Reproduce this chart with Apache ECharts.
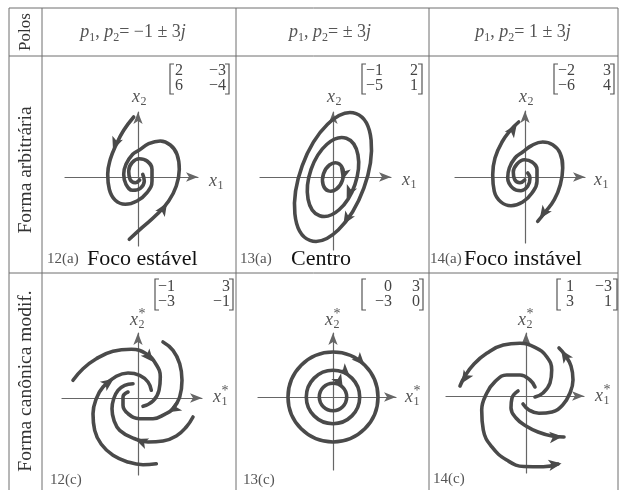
<!DOCTYPE html>
<html>
<head>
<meta charset="utf-8">
<script src="https://cdn.jsdelivr.net/npm/echarts@6/dist/echarts.min.js"></script>
<style>
  html, body { margin: 0; padding: 0; background: #fff; }
  #c { width: 620px; height: 490px; }
</style>
</head>
<body>
<div id="c"></div>
<script>
// ---- Trajectories (x1, x2), one unit per pixel, measured from each panel's origin ----

// 12(a) stable focus, arbitrary form
const estavelA = [[-8.7,-62.3],[4,-50.7],[19,-37.3],[30.7,-24],[38.3,-9],[41.3,7.7],[39,22.7],[32.3,32],[22.3,36],[10.7,33.3],[1.3,27],[-5.3,22.7],[-12,12.7],[-14.3,2.7],[-12,-7.3],[-5.3,-13.3],[2.3,-11.3],[6.3,-4],[4.7,2.7]];
const estavelB = [[-4.3,60],[-14.3,46.7],[-22,32],[-27.7,17.7],[-30.3,2.7],[-28.7,-12.3],[-22.7,-23.3],[-12.7,-27.3],[-1,-24],[9,-15.7],[14,-4],[14,7.7],[9,16],[1.3,18.3],[-6,14.3],[-9.3,6],[-8,-2.3],[-2.7,-5.7],[1.7,-3]];
const estavelArrows = [[[-23.5,31],[-27.3,21]], [[25.5,-31.5],[32.5,-20.5]]];

// 13(a) centre: closed orbits [semi-major, semi-minor, tilt in degrees]
const centroOrbits = [[67.5,32.8,70],[41,23.2,71],[14.6,10,72]];
const centroArrows = [[[12.5,-44],[7,-53]], [[15.5,-17],[11,-27]], [[9.5,-2],[7.5,-10]]];

// 14(a) unstable focus, arbitrary form
const instavelC = [[-0.3,-3],[-5,-5.7],[-10.3,-2.7],[-11.7,5],[-8,13],[-0.7,17.3],[7,15],[12,7.3],[12,-4.3],[7,-16],[-2.3,-25],[-14,-28.7],[-24,-25],[-30.7,-14.3],[-32.3,2.3],[-30,19],[-23,35],[-14,47.3],[-6.3,55]];
const instavelD = [[2.7,4],[5,-1],[2.7,-9.3],[-4,-13.7],[-12.3,-11],[-17.3,-1],[-15.7,9],[-10,19],[-2.3,25],[7,31.7],[17.7,35],[27.7,32.3],[35,24],[37.7,9],[35.3,-7.7],[29.3,-22.7],[20.3,-35],[12.7,-44.3]];
const instavelArrows = [[[-11.5,48],[-4.5,58]], [[18,-37],[11,-47]]];

// 12(c) stable focus, modified canonical form
const canEstavel1 = [[-65,17.7],[-55,29.3],[-41.7,39.3],[-25,46.7],[-6.7,48.7],[8.3,44.3],[17.7,34.3],[22.3,21],[21,7.7],[15,-3],[5,-8.3]];
const canEstavel2 = [[25,56],[35,47.7],[41.7,34.3],[44,17.7],[41.7,1],[35,-10.7],[26.7,-16.3],[15,-20.7],[1.7,-20.7],[-10,-15.7],[-15,-7.3],[-15,1],[-10,6]];
const canEstavel3 = [[55,-19],[48.3,-29],[38.3,-38],[25,-43],[10,-44],[-4,-40.5],[-18.3,-32.3],[-24,-22.3],[-26,-10.7],[-24.3,-0.7],[-20,7.7],[-13.3,12.7],[-5,14.3]];
const canEstavel4 = [[18.3,-65.7],[5,-66.7],[-10,-64],[-25,-57.3],[-36.7,-46.3],[-43.3,-32.3],[-45,-15.7],[-41.7,-0.7],[-35,11],[-21.7,21.7],[-10,25],[1.7,22.7],[10,16],[13.3,7.7]];
const canEstavelArrows = [[[12,40],[19.5,31]], [[33,-12.5],[24.5,-17.5]], [[1,-42.5],[-9,-38.5]], [[-28,16.5],[-19,23]]];

// 13(c) centre, circles [radius]
const canCentroRadii = [[45],[26.7],[13.7]];
const canCentroArrows = [[[29,34.5],[36,27]], [[15.5,22],[21.5,16]], [[9.5,10],[13,4]]];

// 14(c) unstable focus, modified canonical form
const canInstavelP = [[9,-1],[17,3],[24,13],[25.7,26],[20.7,39.3],[9,48.7],[-6,52.7],[-22.7,51],[-39.3,42.7],[-52,32],[-61,20],[-66,10]];
const canInstavelQ = [[-3,-8],[3,-14],[13,-17.3],[26,-16],[36.7,-9],[44,3],[47,16],[45,30],[39,41],[33,48]];
const canInstavelR = [[-8,5],[-14,-2],[-15,-12],[-10,-22],[0,-30],[12,-36],[26,-40],[38,-41]];
const canInstavelS = [[9,9],[4,16],[-6,21],[-19.3,21],[-31,14.3],[-39.3,2.7],[-44.3,-14],[-42.7,-34],[-34.3,-50.7],[-19.3,-64],[-2,-70.5],[17.3,-70.7],[32,-68]];
const canInstavelArrows = [[[-60,19.5],[-68,7]], [[38.5,41],[31.5,51.5]], [[30,-41],[43,-40]], [[29,-68.5],[42,-66.5]]];

// ---- Text content ----
const rowTitles = ['Polos', 'Forma arbitrária', 'Forma canônica modif.'];
const poles = [['−1 ± 3'], ['± 3'], ['1 ± 3']];
const matrices = [
  [['2','−3'],['6','−4']],
  [['−1','2'],['−5','1']],
  [['−2','3'],['−6','4']],
  [['−1','3'],['−3','−1']],
  [['0','3'],['−3','0']],
  [['1','−3'],['3','1']]
];
const figTags = ['12(a)', '13(a)', '14(a)', '12(c)', '13(c)', '14(c)'];
const figNames = ['Foco estável', 'Centro', 'Foco instável'];

// ---- Layout ----
const SERIF = '"Liberation Serif", "DejaVu Serif", serif';
const INK = '#4a4a4a';
const RULE = '#6f6f6f';

// origin (ox, oy) and axis extents (l, r, t, b) of each phase plane, in pixels
const planes = [
  {ox:138, oy:177, l:65,  r:198, t:112, b:246},
  {ox:333, oy:177, l:260, r:391, t:112, b:250},
  {ox:525, oy:177, l:455, r:585, t:111, b:243},
  {ox:138, oy:398, l:62,  r:202, t:333, b:475},
  {ox:333, oy:397, l:258, r:396, t:333, b:470},
  {ox:526, oy:396, l:446, r:584, t:333, b:473}
];

const grids = [], xAxes = [], yAxes = [];
const axisLine = {
  show: true, onZero: true, symbol: ['none', 'arrow'], symbolSize: [7, 12],
  lineStyle: { color: '#666', width: 1.2 }
};
planes.forEach((p, i) => {
  grids.push({ left: p.l, top: p.t, width: p.r - p.l, height: p.b - p.t });
  const common = { type: 'value', gridIndex: i, axisLine, axisTick: {show:false},
    axisLabel: {show:false}, splitLine: {show:false} };
  xAxes.push(Object.assign({}, common, { min: p.l - p.ox, max: p.r - p.ox }));
  yAxes.push(Object.assign({}, common, { min: p.oy - p.b, max: p.oy - p.t }));
});

function curve(i, data) {
  return { type: 'line', xAxisIndex: i, yAxisIndex: i, data, smooth: 0.45,
    symbol: 'none', silent: true, z: 3,
    lineStyle: { color: INK, width: 3.6, cap: 'round', join: 'round' } };
}
function arrows(i, pairs) {
  const half = 6.5;
  const data = pairs.map(([tail, tip]) => {
    const dx = tip[0] - tail[0], dy = tip[1] - tail[1];
    const len = Math.hypot(dx, dy);
    return { value: [tip[0] - dx / len * half, tip[1] - dy / len * half],
      symbolRotate: Math.atan2(dy, dx) * 180 / Math.PI - 90 };
  });
  return { type: 'scatter', xAxisIndex: i, yAxisIndex: i, data, symbol: 'arrow',
    symbolSize: [8.5, 13], silent: true, z: 5, itemStyle: { color: INK, opacity: 1 } };
}
function ellipses(i, data) {
  return { type: 'custom', xAxisIndex: i, yAxisIndex: i, data, silent: true, z: 3,
    renderItem(params, api) {
      const c = api.coord([0, 0]);
      const s = api.size([api.value(0), api.value(1)]);
      return { type: 'ellipse', x: c[0], y: c[1], rotation: api.value(2) * Math.PI / 180,
        shape: { cx: 0, cy: 0, rx: s[0], ry: s[1] },
        style: { fill: 'none', stroke: INK, lineWidth: 3.6 } };
    } };
}
function circles(i, data) {
  return { type: 'custom', xAxisIndex: i, yAxisIndex: i, data, silent: true, z: 3,
    renderItem(params, api) {
      const c = api.coord([0, 0]);
      const r = api.size([api.value(0), api.value(0)])[0];
      return { type: 'circle', shape: { cx: c[0], cy: c[1], r },
        style: { fill: 'none', stroke: INK, lineWidth: 3.6 } };
    } };
}

const series = [
  curve(0, estavelA), curve(0, estavelB), arrows(0, estavelArrows),
  ellipses(1, centroOrbits), arrows(1, centroArrows),
  curve(2, instavelC), curve(2, instavelD), arrows(2, instavelArrows),
  curve(3, canEstavel1), curve(3, canEstavel2), curve(3, canEstavel3), curve(3, canEstavel4),
  arrows(3, canEstavelArrows),
  circles(4, canCentroRadii), arrows(4, canCentroArrows),
  curve(5, canInstavelP), curve(5, canInstavelQ), curve(5, canInstavelR), curve(5, canInstavelS),
  arrows(5, canInstavelArrows)
];

// ---- Table, labels, matrices ----
const g = [];
function line(x1, y1, x2, y2, w) {
  g.push({ type: 'line', silent: true, shape: { x1, y1, x2, y2 },
    style: { stroke: RULE, lineWidth: w || 1 } });
}
function text(x, y, str, font, fill, align, rot) {
  g.push({ type: 'text', x, y, rotation: rot || 0, silent: true,
    style: { text: str, font, fill: fill || '#333', align: align || 'left',
      textAlign: align || 'left', verticalAlign: 'middle', textVerticalAlign: 'middle' } });
}

// table rules
line(9, 8, 618, 8);
line(9, 56, 618, 56);
line(9, 273, 618, 273);
line(9, 8, 9, 490);
line(42, 8, 42, 490);
line(236, 8, 236, 490);
line(429, 8, 429, 490);
line(618, 8, 618, 490);

// row titles (vertical)
text(26, 32, rowTitles[0], '17px ' + SERIF, '#333', 'center', Math.PI / 2);
text(26, 170, rowTitles[1], '19.5px ' + SERIF, '#333', 'center', Math.PI / 2);
text(26, 381, rowTitles[2], '19.5px ' + SERIF, '#333', 'center', Math.PI / 2);

// pole headers
const headerCenters = [133, 330, 523];
const rich = {
  i: { fontFamily: SERIF, fontStyle: 'italic', fontSize: 18, fill: '#555', lineHeight: 24 },
  s: { fontFamily: SERIF, fontSize: 12, fill: '#555', lineHeight: 24, verticalAlign: 'bottom' },
  t: { fontFamily: SERIF, fontSize: 18, fill: '#555', lineHeight: 24 }
};
poles.forEach((p, k) => {
  g.push({ type: 'text', x: headerCenters[k], y: 32, silent: true,
    style: { text: '{i|p}{s|1}{t|, }{i|p}{s|2}{t|= ' + p[0] + '}{i|j}', rich,
      align: 'center', textAlign: 'center', verticalAlign: 'middle', textVerticalAlign: 'middle' } });
});

// matrices: bracket extents, column anchors and row centres
const matLayout = [
  { l:170, r:229, t:64,  b:94,  c1:175, a1:'left',  c2:226, y1:71,  y2:86 },
  { l:362, r:422, t:64,  b:94,  c1:366, a1:'left',  c2:418, y1:71,  y2:86 },
  { l:554, r:614, t:64,  b:94,  c1:558, a1:'left',  c2:611, y1:71,  y2:86 },
  { l:155, r:233, t:279, b:310, c1:158, a1:'left',  c2:230, y1:287, y2:302 },
  { l:362, r:423, t:279, b:310, c1:392, a1:'right', c2:420, y1:287, y2:302 },
  { l:557, r:617, t:279, b:310, c1:566, a1:'left',  c2:612, y1:287, y2:302 }
];
matrices.forEach((m, k) => {
  const L = matLayout[k];
  g.push({ type: 'polyline', silent: true, shape: { points: [[L.l + 4, L.t], [L.l, L.t], [L.l, L.b], [L.l + 4, L.b]] },
    style: { stroke: '#555', lineWidth: 1.2, fill: null } });
  g.push({ type: 'polyline', silent: true, shape: { points: [[L.r - 4, L.t], [L.r, L.t], [L.r, L.b], [L.r - 4, L.b]] },
    style: { stroke: '#555', lineWidth: 1.2, fill: null } });
  const f = '16px ' + SERIF;
  text(L.c1, L.y1, m[0][0], f, '#444', L.a1);
  text(L.c2, L.y1, m[0][1], f, '#444', 'right');
  text(L.c1, L.y2, m[1][0], f, '#444', L.a1);
  text(L.c2, L.y2, m[1][1], f, '#444', 'right');
});

// axis variable names
function varName(x, y, sub, star) {
  text(x, y, 'x', 'italic 18px ' + SERIF, '#555');
  text(x + 8.5, y + 5, sub, '12px ' + SERIF, '#555');
  if (star) text(x + 8.5, y - 6, '*', '14px ' + SERIF, '#555');
}
varName(209, 181, '1'); varName(132, 97, '2');
varName(402, 180, '1'); varName(327, 97, '2');
varName(594, 180, '1'); varName(519, 97, '2');
varName(213, 397, '1', true); varName(130, 320, '2', true);
varName(405, 397, '1', true); varName(325, 320, '2', true);
varName(595, 396, '1', true); varName(518, 320, '2', true);

// figure tags and names
const tagPos = [[47, 259], [240, 259], [430, 259], [50, 480], [243, 480], [433, 479]];
figTags.forEach((t, k) => text(tagPos[k][0], tagPos[k][1], t, '15px ' + SERIF, '#555'));
const namePos = [[87, 259], [291, 259], [464, 259]];
figNames.forEach((t, k) => text(namePos[k][0], namePos[k][1], t, '22px ' + SERIF, '#111'));

const chart = echarts.init(document.getElementById('c'), null, { renderer: 'canvas', width: 620, height: 490 });
chart.setOption({
  animation: false,
  backgroundColor: '#fff',
  grid: grids,
  xAxis: xAxes,
  yAxis: yAxes,
  series,
  graphic: { elements: g }
});
</script>
</body>
</html>
